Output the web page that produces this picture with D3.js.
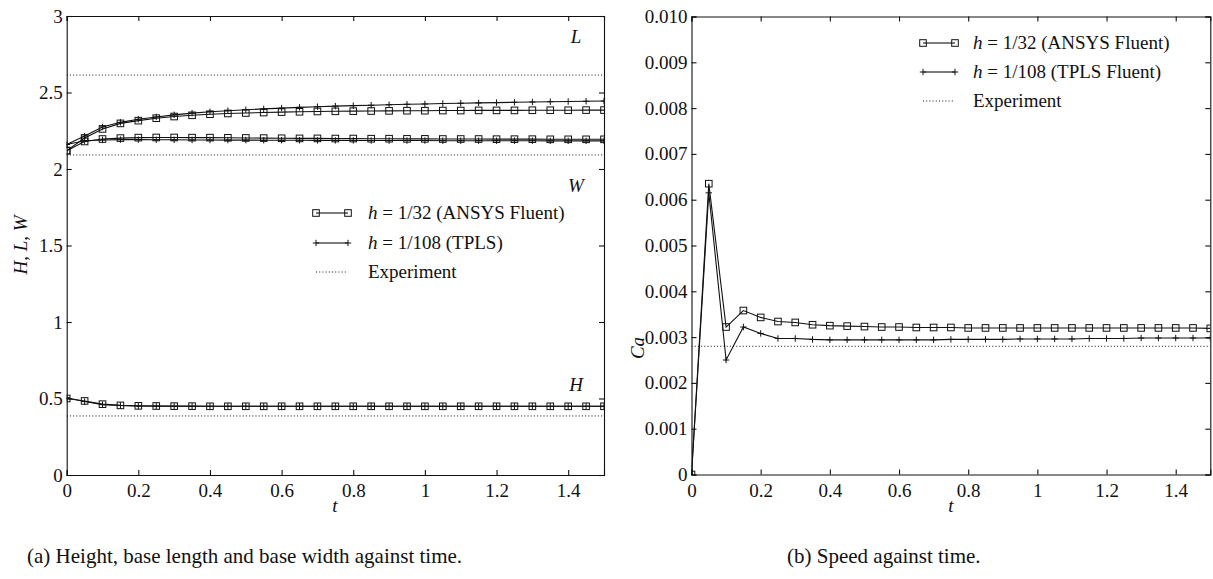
<!DOCTYPE html>
<html><head><meta charset="utf-8">
<script src="https://cdn.jsdelivr.net/npm/d3@7"></script>
<style>
html,body{margin:0;padding:0;background:#fff;}
</style></head>
<body><svg id="c" width="1213" height="579"></svg>
<script>
// ---------- data ----------
const time = [0,0.05,0.1,0.15,0.2,0.25,0.3,0.35,0.4,0.45,0.5,0.55,0.6,0.65,0.7,0.75,0.8,0.85,0.9,0.95,1.0,1.05,1.1,1.15,1.2,1.25,1.3,1.35,1.4,1.45,1.5];
const L_ansys = [2.12,2.203,2.262,2.298,2.316,2.332,2.343,2.351,2.358,2.363,2.366,2.369,2.372,2.374,2.376,2.377,2.378,2.379,2.380,2.381,2.381,2.382,2.382,2.383,2.383,2.383,2.384,2.384,2.384,2.385,2.385];
const L_tpls  = [2.16,2.215,2.275,2.305,2.325,2.340,2.354,2.365,2.374,2.381,2.387,2.393,2.398,2.403,2.407,2.411,2.414,2.417,2.420,2.423,2.425,2.428,2.430,2.432,2.434,2.436,2.438,2.440,2.441,2.443,2.444];
const W_ansys = [2.12,2.180,2.196,2.202,2.205,2.206,2.206,2.205,2.205,2.204,2.203,2.202,2.201,2.200,2.200,2.199,2.199,2.198,2.198,2.197,2.197,2.196,2.196,2.196,2.195,2.195,2.195,2.194,2.194,2.194,2.194];
const W_tpls  = [2.16,2.185,2.190,2.192,2.192,2.191,2.191,2.190,2.190,2.189,2.189,2.188,2.188,2.188,2.187,2.187,2.187,2.186,2.186,2.186,2.186,2.185,2.185,2.185,2.185,2.185,2.185,2.184,2.184,2.184,2.184];
const H_ansys = [0.500,0.484,0.463,0.455,0.452,0.451,0.450,0.450,0.449,0.449,0.449,0.449,0.449,0.449,0.449,0.449,0.449,0.449,0.449,0.449,0.449,0.449,0.449,0.449,0.449,0.449,0.449,0.449,0.449,0.449,0.449];
const H_tpls  = [0.505,0.480,0.460,0.454,0.451,0.450,0.449,0.449,0.449,0.449,0.449,0.449,0.449,0.449,0.449,0.449,0.449,0.449,0.449,0.449,0.449,0.449,0.449,0.449,0.449,0.449,0.449,0.449,0.449,0.449,0.449];
const exp_L = 2.614, exp_W = 2.092, exp_H = 0.386;
const Ca_ansys = [0,0.00635,0.00322,0.00358,0.00343,0.00334,0.00332,0.00327,0.00325,0.00324,0.00323,0.00322,0.00322,0.00321,0.00321,0.00321,0.00320,0.00320,0.00320,0.00320,0.00320,0.00320,0.00320,0.00320,0.00320,0.00320,0.00320,0.00320,0.00320,0.00320,0.00319];
const Ca_tpls  = [0,0.00615,0.00250,0.00322,0.00308,0.00297,0.00297,0.00295,0.00294,0.00294,0.00294,0.00294,0.00294,0.00294,0.00294,0.00295,0.00295,0.00295,0.00295,0.00296,0.00296,0.00296,0.00296,0.00297,0.00297,0.00297,0.00298,0.00298,0.00298,0.00298,0.00298];
const exp_Ca = 0.0028;
const xTicks = [0,0.2,0.4,0.6,0.8,1,1.2,1.4];
const yTicksA = [0,0.5,1,1.5,2,2.5,3];
const yTicksB = [0,0.001,0.002,0.003,0.004,0.005,0.006,0.007,0.008,0.009,0.010];
const yLabelsB = ["0","0.001","0.002","0.003","0.004","0.005","0.006","0.007","0.008","0.009","0.010"];
const legendA = ["= 1/32 (ANSYS Fluent)","= 1/108 (TPLS)","Experiment"];
const legendB = ["= 1/32 (ANSYS Fluent)","= 1/108 (TPLS Fluent)","Experiment"];

const svg = d3.select("#c");
const INK = "#111";
const SERIF = "'Liberation Serif', 'DejaVu Serif', serif";

function panel(opt){
  const g = svg.append("g");
  const x = d3.scaleLinear().domain([0,1.5]).range([opt.x0,opt.x1]);
  const y = d3.scaleLinear().domain(opt.ydom).range([opt.y0,opt.y1]);
  const id = "clip"+opt.name;
  svg.append("clipPath").attr("id",id).append("rect")
    .attr("x",opt.x0).attr("y",opt.y1).attr("width",opt.x1-opt.x0).attr("height",opt.y0-opt.y1);
  const ax = (gen, tr) => g.append("g").attr("transform",tr).call(gen)
      .call(s=>s.select(".domain").attr("stroke",INK).attr("stroke-width",1.1))
      .call(s=>s.selectAll(".tick line").attr("stroke",INK).attr("stroke-width",1.1))
      .call(s=>s.selectAll("text").style("font-size","19px").attr("fill",INK));
  ax(d3.axisBottom(x).tickValues(xTicks).tickSize(-5).tickPadding(9).tickFormat(d3.format("")), `translate(0,${opt.y0})`);
  ax(d3.axisTop(x).tickValues(xTicks).tickSize(-5).tickFormat(""), `translate(0,${opt.y1})`);
  ax(d3.axisLeft(y).tickValues(opt.yt).tickSize(-5).tickPadding(4).tickFormat((d,i)=>opt.yl[i]), `translate(${opt.x0},0)`);
  ax(d3.axisRight(y).tickValues(opt.yt).tickSize(-5).tickFormat(""), `translate(${opt.x1},0)`);

  const plot = g.append("g").attr("clip-path",`url(#${id})`);
  const line = d3.line().x((d,i)=>x(time[i])).y(d=>y(d));
  opt.exp.forEach(v=>{
    plot.append("line").attr("x1",x(0)).attr("x2",x(1.5)).attr("y1",y(v)).attr("y2",y(v))
      .attr("stroke",INK).attr("stroke-width",1).attr("stroke-dasharray","1,2.2");
  });
  opt.series.forEach(s=>{
    plot.append("path").datum(s.v).attr("d",line).attr("fill","none").attr("stroke",INK).attr("stroke-width",1.1);
    s.v.forEach((d,i)=>marker(plot, s.m, x(time[i]), y(d)));
  });
  return {x,y,g};
}
function marker(sel, m, cx, cy){
  if(m==="sq"){
    sel.append("rect").attr("x",cx-3.3).attr("y",cy-3.3).attr("width",6.6).attr("height",6.6)
      .attr("fill","none").attr("stroke",INK).attr("stroke-width",1);
  } else {
    sel.append("path").attr("d",`M${cx-3.2},${cy}H${cx+3.2}M${cx},${cy-3.2}V${cy+3.2}`)
      .attr("stroke",INK).attr("stroke-width",1);
  }
}
function legend(g, lx0, lx1, tx, rows, labels){
  const mk = ["sq","plus","dot"];
  rows.forEach((ry,i)=>{
    if(mk[i]==="dot"){
      g.append("line").attr("x1",lx0).attr("x2",lx1).attr("y1",ry).attr("y2",ry)
        .attr("stroke",INK).attr("stroke-dasharray","1,2.2");
    } else {
      g.append("line").attr("x1",lx0).attr("x2",lx1).attr("y1",ry).attr("y2",ry).attr("stroke",INK).attr("stroke-width",1.1);
      marker(g, mk[i], lx0, ry); marker(g, mk[i], lx1, ry);
    }
    const t = g.append("text").attr("x",tx).attr("y",ry+6).style("font-size","19px");
    if(i<2){
      t.append("tspan").style("font-style","italic").text("h");
      t.append("tspan").text(" "+labels[i]);
    } else t.text(labels[i]);
  });
}

const A = panel({name:"a",x0:66.7,x1:604,y0:475,y1:16,ydom:[0,3],yt:yTicksA,yl:yTicksA.map(String),
  exp:[exp_L,exp_W,exp_H],
  series:[{v:L_tpls,m:"plus"},{v:W_tpls,m:"plus"},{v:H_tpls,m:"plus"},
          {v:L_ansys,m:"sq"},{v:W_ansys,m:"sq"},{v:H_ansys,m:"sq"}]});
legend(A.g, 316, 348, 368, [213,243,272], legendA);
[["L",exp_L+0.25],["W",exp_W-0.2],["H",exp_H+0.2]].forEach(([s,v])=>{
  A.g.append("text").attr("x",576).attr("y",A.y(v)+6).attr("text-anchor","middle")
    .style("font-style","italic").style("font-size","19px").text(s);
});
const yl = A.g.append("text").attr("transform",`translate(27,245) rotate(-90)`).attr("text-anchor","middle").style("font-size","19px");
yl.append("tspan").style("font-style","italic").text("H");
yl.append("tspan").text(", ");
yl.append("tspan").style("font-style","italic").text("L");
yl.append("tspan").text(", ");
yl.append("tspan").style("font-style","italic").text("W");
A.g.append("text").attr("x",335).attr("y",512).attr("text-anchor","middle").style("font-style","italic").style("font-size","19px").text("t");

const B = panel({name:"b",x0:691.5,x1:1210.3,y0:474.5,y1:16.5,ydom:[0,0.010],yt:yTicksB,yl:yLabelsB,
  exp:[exp_Ca],
  series:[{v:Ca_tpls,m:"plus"},{v:Ca_ansys,m:"sq"}]});
legend(B.g, 923, 955, 973, [43,72,101], legendB);
B.g.append("text").attr("transform",`translate(644,348) rotate(-90)`).attr("text-anchor","middle")
  .style("font-style","italic").style("font-size","19px").text("Ca");
B.g.append("text").attr("x",951).attr("y",512).attr("text-anchor","middle").style("font-style","italic").style("font-size","19px").text("t");

svg.append("text").attr("x",27).attr("y",563).style("font-size","21px").text("(a) Height, base length and base width against time.");
svg.append("text").attr("x",787).attr("y",563).style("font-size","21px").text("(b) Speed against time.");

svg.selectAll("text").style("font-family",SERIF).attr("fill",INK);
</script></body></html>
